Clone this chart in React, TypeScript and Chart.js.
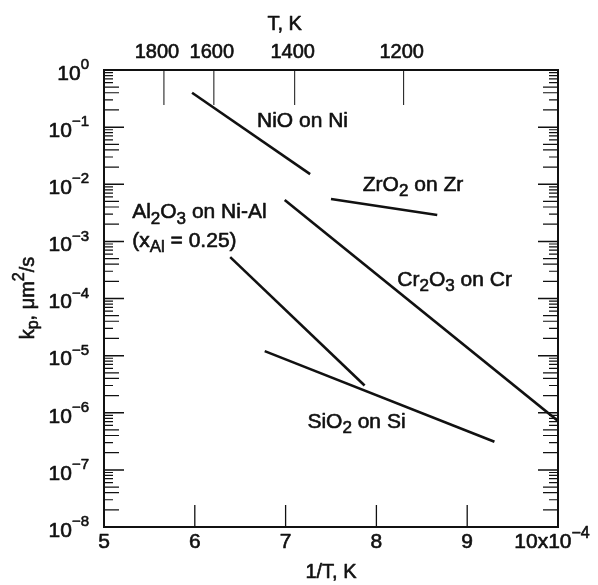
import React, { useEffect, useRef } from 'react';
import { Chart, registerables } from 'chart.js';

Chart.register(...registerables);

// ---- data (1/T in units of 1e-4 K^-1, kp in um^2/s) ----
const nioX = [5.97, 7.27];
const nioK = [0.40, 0.015];
const zrX = [7.5, 8.67];
const zrK = [5.5e-3, 2.9e-3];
const crX = [6.99, 10.0];
const crK = [5.3e-3, 7.2e-7];
const alX = [6.39, 7.87];
const alK = [5.3e-4, 3.0e-6];
const siX = [6.77, 9.3];
const siK = [1.2e-5, 3.1e-7];

// ---- axes ----
const xTickValues = [5, 6, 7, 8, 9, 10];
const xTickLabels = ['5', '6', '7', '8', '9', '10x10'];
const yDecades = [0, -1, -2, -3, -4, -5, -6, -7, -8];
const topTickLabels = ['1800', '1600', '1400', '1200'];
const topTickPositions = [5.66, 6.21, 7.1, 8.3];

type Seg = { t: string; k?: 'sub' | 'sup' };

// ---- annotations ----
const labelSegs: Seg[][] = [
  [{ t: 'NiO on Ni' }],
  [{ t: 'ZrO' }, { t: '2', k: 'sub' }, { t: ' on Zr' }],
  [{ t: 'Al' }, { t: '2', k: 'sub' }, { t: 'O' }, { t: '3', k: 'sub' }, { t: ' on Ni-Al' }],
  [{ t: '(x' }, { t: 'Al', k: 'sub' }, { t: ' = 0.25)' }],
  [{ t: 'Cr' }, { t: '2', k: 'sub' }, { t: 'O' }, { t: '3', k: 'sub' }, { t: ' on Cr' }],
  [{ t: 'SiO' }, { t: '2', k: 'sub' }, { t: ' on Si' }],
];
const labelX = [6.685, 7.85, 5.31, 5.31, 8.23, 7.24];
const labelK = [0.126, 9.7e-3, 3.2e-3, 1.0e-3, 2.1e-4, 6.9e-7];

const FONT = '"Liberation Sans", Arial, Helvetica, sans-serif';
const INK = '#111';

function drawRich(
  ctx: CanvasRenderingContext2D,
  segs: Seg[],
  x: number,
  y: number,
  size: number,
  align: 'left' | 'right' | 'center',
  ratio = 0.78
) {
  const small = Math.round(size * ratio);
  const widths = segs.map((s) => {
    ctx.font = `${s.k ? small : size}px ${FONT}`;
    return ctx.measureText(s.t).width;
  });
  const total = widths.reduce((a, b) => a + b, 0);
  let cx = align === 'left' ? x : align === 'right' ? x - total : x - total / 2;
  ctx.textAlign = 'left';
  ctx.textBaseline = 'middle';
  ctx.lineWidth = 0.6;
  ctx.lineJoin = 'round';
  segs.forEach((s, i) => {
    ctx.font = `${s.k ? small : size}px ${FONT}`;
    const dy = s.k === 'sub' ? size * 0.3 : s.k === 'sup' ? -size * 0.42 : 0;
    ctx.fillText(s.t, cx, y + dy);
    ctx.strokeText(s.t, cx, y + dy);
    cx += widths[i];
  });
}

const overlay = {
  id: 'overlay',
  afterDraw(chart: any) {
    const ctx: CanvasRenderingContext2D = chart.ctx;
    const { left, right, top, bottom } = chart.chartArea;
    const xs = chart.scales.x;
    const ys = chart.scales.y;
    ctx.save();
    ctx.fillStyle = INK;
    ctx.strokeStyle = INK;

    // frame
    ctx.lineWidth = 2;
    ctx.strokeRect(left, top, right - left, bottom - top);

    // bottom ticks (inward)
    ctx.lineWidth = 1.3;
    xTickValues.forEach((v) => {
      if (v === 5 || v === 10) return;
      const px = xs.getPixelForValue(v);
      ctx.beginPath();
      ctx.moveTo(px, bottom);
      ctx.lineTo(px, bottom - 22);
      ctx.stroke();
    });
    // bottom labels
    xTickValues.forEach((v, i) => {
      const px = xs.getPixelForValue(v);
      if (i === xTickLabels.length - 1) {
        drawRich(ctx, [{ t: xTickLabels[i] }, { t: '−4', k: 'sup' }], px - 6, 542, 21, 'center', 0.75);
      } else {
        drawRich(ctx, [{ t: xTickLabels[i] }], px, 542, 21, 'center');
      }
    });
    drawRich(ctx, [{ t: '1/T, K' }], (left + right) / 2, 572, 20, 'center');

    // top ticks
    topTickPositions.forEach((v, i) => {
      const px = xs.getPixelForValue(v);
      ctx.lineWidth = 1;
      ctx.beginPath();
      ctx.moveTo(px, top);
      ctx.lineTo(px, top + 35);
      ctx.stroke();
      drawRich(ctx, [{ t: topTickLabels[i] }], px - (i === 0 ? 7 : 2), 52, 20, 'center');
    });
    drawRich(ctx, [{ t: 'T, K' }], xs.getPixelForValue(6.99), 24, 20, 'center');

    // y ticks, left & right (inward)
    yDecades.forEach((d) => {
      const py = ys.getPixelForValue(Math.pow(10, d));
      ctx.lineWidth = 1.5;
      ctx.beginPath();
      ctx.moveTo(left, py);
      ctx.lineTo(left + 20, py);
      ctx.moveTo(right, py);
      ctx.lineTo(right - 20, py);
      ctx.stroke();
      if (d > -8) {
        for (let m = 2; m <= 9; m++) {
          const pm = ys.getPixelForValue(m * Math.pow(10, d - 1));
          const len = m === 2 || m === 4 || m === 5 ? 15 : 9;
          ctx.lineWidth = 1.2;
          ctx.beginPath();
          ctx.moveTo(left, pm);
          ctx.lineTo(left + len, pm);
          ctx.moveTo(right, pm);
          ctx.lineTo(right - len, pm);
          ctx.stroke();
        }
      }
      // label
      ctx.font = `15px ${FONT}`;
      const supTxt = d === 0 ? '0' : '−' + String(-d);
      const supW = ctx.measureText(supTxt).width;
      const rx = left - 15;
      drawRich(ctx, [{ t: supTxt }], rx - supW, py - 5, 15, 'left');
      drawRich(ctx, [{ t: '10' }], rx - supW, py + 4, 21, 'right');
    });

    // y title
    ctx.save();
    ctx.translate(28, 298);
    ctx.rotate(-Math.PI / 2);
    drawRich(
      ctx,
      [{ t: 'k' }, { t: 'p', k: 'sub' }, { t: ', μm' }, { t: '2', k: 'sup' }, { t: '/s' }],
      0,
      0,
      20,
      'center'
    );
    ctx.restore();

    // annotations
    labelSegs.forEach((segs, i) => {
      const px = xs.getPixelForValue(labelX[i]);
      const py = ys.getPixelForValue(labelK[i]);
      drawRich(ctx, segs, px, py, 21, 'left', 0.82);
    });

    ctx.restore();
  },
};

function toPts(xv: number[], kv: number[]) {
  return xv.map((x, i) => ({ x, y: kv[i] }));
}

export default function App() {
  const ref = useRef<HTMLCanvasElement | null>(null);
  useEffect(() => {
    if (!ref.current) return;
    const mk = (label: string, xv: number[], kv: number[]) => ({
      label,
      data: toPts(xv, kv),
      borderColor: INK,
      borderWidth: 2.6,
      pointRadius: 0,
      fill: false,
      tension: 0,
    });
    const chart = new Chart(ref.current, {
      type: 'line',
      data: {
        datasets: [
          mk('NiO on Ni', nioX, nioK),
          mk('ZrO2 on Zr', zrX, zrK),
          mk('Cr2O3 on Cr', crX, crK),
          mk('Al2O3 on Ni-Al', alX, alK),
          mk('SiO2 on Si', siX, siK),
        ],
      },
      options: {
        animation: false,
        responsive: false,
        devicePixelRatio: 1,
        layout: { padding: { left: 104, right: 40, top: 70, bottom: 58 } },
        plugins: { legend: { display: false }, tooltip: { enabled: false } },
        scales: {
          x: { type: 'linear', min: 5, max: 10, display: false },
          y: { type: 'logarithmic', min: 1e-8, max: 1, display: false },
        },
      },
      plugins: [overlay],
    });
    return () => chart.destroy();
  }, []);
  return (
    <div style={{ position: 'absolute', left: 0, top: 0, width: 598, height: 585, background: '#fff' }}>
      <canvas ref={ref} width={598} height={585} style={{ width: 598, height: 585, display: 'block' }} />
    </div>
  );
}
